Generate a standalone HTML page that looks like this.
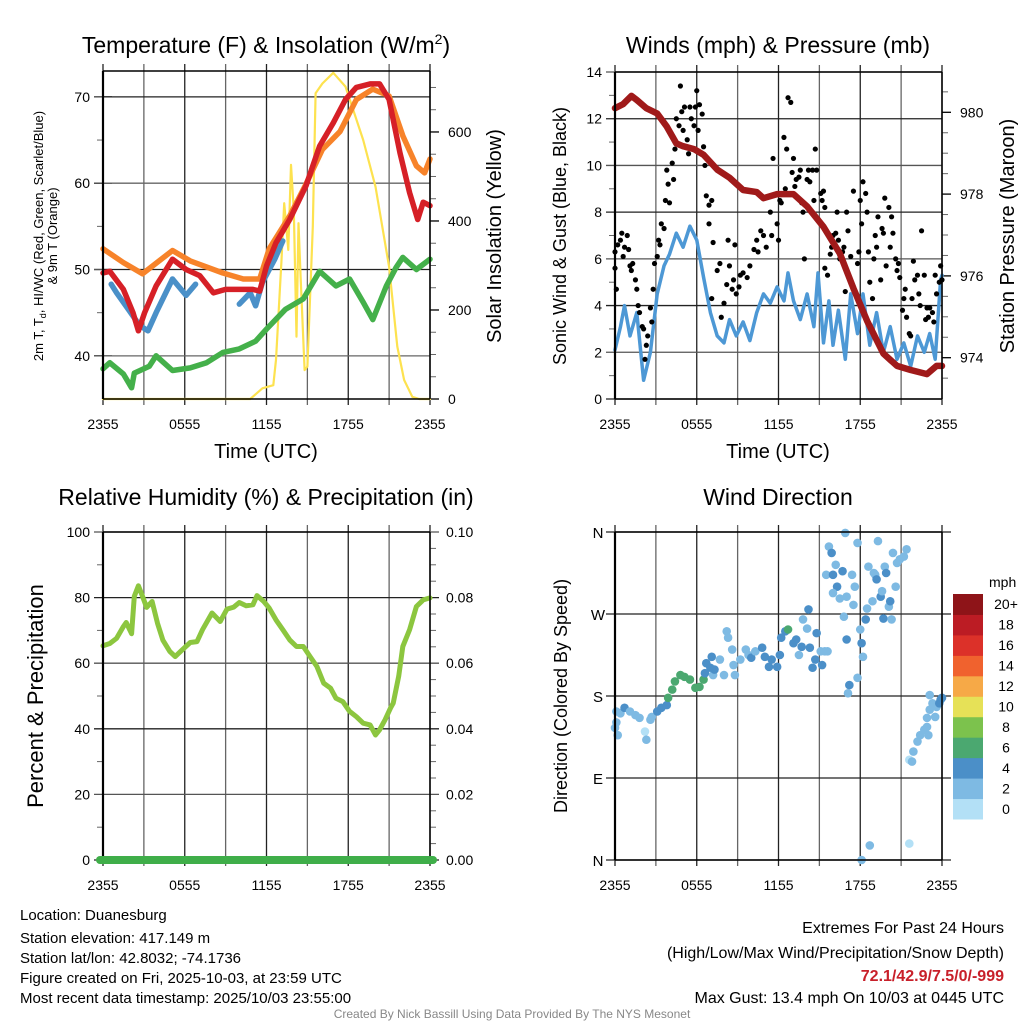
<!DOCTYPE html>
<html><head><meta charset="utf-8">
<style>
html,body{margin:0;padding:0;background:#fff;}
svg{display:block;font-family:"Liberation Sans",Arial,sans-serif;}
</style></head>
<body>
<svg id="fig" width="1024" height="1024" viewBox="0 0 1024 1024" xmlns="http://www.w3.org/2000/svg">
<rect width="1024" height="1024" fill="#fff"/>
<g id="p1"></g>
<g id="p2"></g>
<g id="p3"></g>
<g id="p4"></g>

<text x="266" y="53" font-size="23" text-anchor="middle">Temperature (F) &amp; Insolation (W/m<tspan font-size="14" dy="-9">2</tspan><tspan dy="9">)</tspan></text>
<text x="778" y="53" font-size="23" text-anchor="middle">Winds (mph) &amp; Pressure (mb)</text>
<text x="266" y="505" font-size="23" text-anchor="middle">Relative Humidity (%) &amp; Precipitation (in)</text>
<text x="778" y="505" font-size="23" text-anchor="middle">Wind Direction</text>

<text transform="translate(43,236) rotate(-90)" font-size="13" text-anchor="middle">2m T, T<tspan font-size="9" dy="3">d</tspan><tspan dy="-3">, HI/WC (Red, Green, Scarlet/Blue)</tspan></text>
<text transform="translate(57,236) rotate(-90)" font-size="13" text-anchor="middle">&amp; 9m T (Orange)</text>
<text transform="translate(501,236) rotate(-90)" font-size="20" text-anchor="middle">Solar Insolation (Yellow)</text>
<text transform="translate(566,236) rotate(-90)" font-size="18" text-anchor="middle">Sonic Wind &amp; Gust (Blue, Black)</text>
<text transform="translate(1014,236) rotate(-90)" font-size="20" text-anchor="middle">Station Pressure (Maroon)</text>
<text transform="translate(43,696) rotate(-90)" font-size="22" text-anchor="middle">Percent &amp; Precipitation</text>
<text transform="translate(567,696) rotate(-90)" font-size="18" text-anchor="middle">Direction (Colored By Speed)</text>
<text x="266" y="458" font-size="20" text-anchor="middle">Time (UTC)</text>
<text x="778" y="458" font-size="20" text-anchor="middle">Time (UTC)</text>

<g font-size="15">
<text x="20" y="920">Location: Duanesburg</text>
<text x="20" y="943">Station elevation: 417.149 m</text>
<text x="20" y="963">Station lat/lon: 42.8032; -74.1736</text>
<text x="20" y="983">Figure created on Fri, 2025-10-03, at 23:59 UTC</text>
<text x="20" y="1003">Most recent data timestamp: 2025/10/03 23:55:00</text>
</g>
<g font-size="16" text-anchor="end">
<text x="1004" y="933">Extremes For Past 24 Hours</text>
<text x="1004" y="958">(High/Low/Max Wind/Precipitation/Snow Depth)</text>
<text x="1004" y="981" fill="#c8202a" font-weight="bold">72.1/42.9/7.5/0/-999</text>
<text x="1004" y="1003">Max Gust: 13.4 mph On 10/03 at 0445 UTC</text>
</g>
<text x="512" y="1018" font-size="12" fill="#888" text-anchor="middle">Created By Nick Bassill Using Data Provided By The NYS Mesonet</text>
<g id="cbar"></g>
</svg>
<script>
// ---------- data (hours since 2355 UTC) ----------
const xTickLabels = ["2355","0555","1155","1755","2355"];
const tempTicks = [40,50,60,70];
const solarTicks = [0,200,400,600];
const windTicks = [0,2,4,6,8,10,12,14];
const presTicks = [974,976,978,980];
const rhTicks = [0,20,40,60,80,100];
const precipTickLabels = ["0.00","0.02","0.04","0.06","0.08","0.10"];
const dirTickLabels = ["N","E","S","W","N"];
const speedLabels = ["0","2","4","6","8","10","12","14","16","18","20+"];
const speedColors = ["#b3e0f6","#7ebae3","#4b8fc8","#4ba870","#7cc24d","#e6e157","#f6a947","#f0622e","#dc3129","#bc1c24","#8e1418"];

const tRedH = [0,0.5,1.5,2.2,2.6,3.05,3.9,5.1,6.1,7.1,8.1,9.0,10.0,11.0,11.5,12,12.7,13.7,14.9,15.9,16.9,17.8,18.6,19.6,20.3,21,21.8,22.5,23.1,23.5,24];
const tRedV = [49.6,49.8,47.7,45,42.9,45,48.1,51.2,50,49.3,47.3,47.7,47.7,47.7,47.5,50.4,53.1,55.8,59.7,64.3,67,69.7,71.1,71.5,71.5,69.7,63.5,58.9,55.8,57.8,57.4];
const tOrH = [0,1.5,2.9,5.1,6.4,8.8,10.3,11.5,12.2,13.7,14.9,16.1,17.4,18.6,19.8,21,22,23,23.6,24];
const tOrV = [52.4,50.8,49.5,52.2,51,49.6,48.9,48.9,52.4,56.2,59.9,63.9,66,69.7,70.9,70.1,65.5,62,61.2,62.8];
const hiH = [0.6,1,2.7,3.3,3.9,5.1,6.1,6.8,null,10,10.8,11.2,11.7,12.6,13.2];
const hiV = [48.3,47.3,43.5,42.9,45,48.9,47,48.3,null,46,47.3,45.8,48.5,51.2,53.3];
const tdH = [0,0.5,1.5,2.1,2.3,3.4,3.9,5.1,6.4,7.6,8.8,10,11.2,12,13.4,14.7,15.9,17.1,18.1,19.1,19.8,20.8,21.5,22,23,24];
const tdV = [38.5,39.2,37.9,36.3,38,38.8,40,38.3,38.6,39.2,40.4,40.8,41.7,43.1,45.4,46.6,49.8,48.1,48.9,46.2,44.2,48.1,50.2,51.4,50,51.2];
const solH = [0,10.8,11.7,12.5,12.7,13.1,13.3,13.6,13.8,14.0,14.2,14.35,14.5,14.8,15.0,15.4,15.6,16.1,16.9,17.8,19.1,20,21,21.6,22.1,22.7,23.2,24];
const solV = [0,0,24,31,88,312,440,335,526,425,140,395,275,65,73,387,687,709,733,702,582,477,297,118,43,5,0,0];

const presH = [0,0.6,1.2,1.6,2.3,3.1,3.8,4.5,5,5.8,6.5,7.5,8.4,9.4,10.4,10.9,11.9,13.1,14.1,15.3,16.5,17.5,18.5,19.7,20.7,21.7,22.9,23.6,24];
const presV = [980.1,980.2,980.4,980.3,980.1,979.97,979.65,979.24,979.17,979.1,978.96,978.6,978.4,978.1,978.05,977.9,978.0,978.0,977.7,977.2,976.55,975.7,974.9,974.1,973.8,973.7,973.6,973.8,973.8];
const wsH = [0,0.4,0.7,1.1,1.6,2.1,2.6,3.1,3.6,4.0,4.5,5.0,5.5,6.0,6.5,7.0,7.5,8.0,8.4,8.9,9.4,9.9,10.4,10.9,11.4,11.9,12.4,12.7,13.1,13.6,14.1,14.6,14.9,15.3,15.7,16.0,16.4,16.9,17.3,17.8,18.2,18.7,19.2,19.7,20.2,20.7,21.2,21.7,22.2,22.7,23.1,23.5,23.9,24];
const wsV = [2.1,3.1,4.0,2.7,3.7,0.8,2.0,4.5,5.7,6.2,7.1,6.5,7.4,6.8,5.2,3.7,2.7,2.4,3.4,2.7,3.3,2.5,3.7,4.5,4.1,4.8,4.2,5.4,4.2,3.4,4.5,3.1,5.4,2.4,4.2,2.3,3.8,1.7,4.5,2.8,4.5,2.3,3.7,2.0,3.1,1.7,2.4,1.4,2.7,2.0,2.8,1.7,5.1,5.3];
const gustH = [0,0,0.1,0.2,0.4,0.5,0.6,0.7,0.9,1.0,1.1,1.2,1.3,1.5,1.6,1.7,1.8,2.0,2.1,2.2,2.3,2.4,2.6,2.7,2.8,2.9,3.1,3.2,3.3,3.4,3.6,3.7,3.8,3.9,4.0,4.2,4.3,4.4,4.5,4.7,4.8,4.9,5.0,5.1,5.3,5.4,5.5,5.6,5.8,5.9,6.0,6.1,6.2,6.4,6.5,6.6,6.7,6.9,6.9,7.1,7.2,7.1,7.5,7.7,7.8,8.0,8.2,8.3,8.4,8.6,8.7,8.8,8.9,9.1,9.2,9.4,9.7,9.9,10.2,10.4,10.5,10.7,10.9,11.1,11.4,11.5,11.6,11.9,12.0,12.1,12.2,12.4,12.5,12.6,12.7,12.9,13.0,13.1,13.2,13.3,13.5,13.6,13.7,13.8,13.9,14.1,14.2,14.3,14.5,14.6,14.7,14.8,14.9,15.1,15.2,15.3,15.4,15.4,15.6,15.8,15.9,16.0,16.2,16.3,16.4,16.5,16.7,16.8,16.9,17.0,17.1,17.3,17.5,17.8,17.9,18.0,18.1,18.2,18.4,18.5,18.6,18.7,18.9,19.0,19.1,19.2,19.3,19.5,19.6,19.7,19.8,19.9,20.1,20.2,20.3,20.4,20.6,20.7,20.8,20.9,21.1,21.2,21.3,21.4,21.6,21.7,21.8,21.9,22.0,22.2,22.3,22.4,22.5,22.7,22.8,22.9,23.0,23.1,23.3,23.4,23.5,23.6,23.8,23.9,24.0];
const gustV = [6.3,5.6,4.7,6.6,6.8,7.1,6.1,6.5,7.0,6.4,5.7,5.5,5.8,5.1,4.7,4.0,3.7,3.1,3.0,1.7,2.3,2.7,3.9,3.3,4.7,5.8,6.1,6.8,6.6,7.5,7.3,8.5,9.8,9.2,8.4,10.1,9.4,10.7,12.0,11.7,13.4,12.3,11.5,12.5,11.1,10.5,12.5,12.0,11.7,12.5,13.2,11.5,12.6,12.2,10.8,10.0,8.7,8.3,7.5,8.5,6.7,4.3,5.5,5.8,3.5,4.1,4.9,6.8,5.7,4.7,5.1,6.6,4.5,4.8,5.3,5.4,5.2,5.7,6.4,6.8,6.3,7.2,7.0,6.5,8.0,7.0,10.3,7.5,6.8,8.5,8.4,11.2,9.0,10.7,12.9,12.7,9.7,10.3,9.1,9.4,9.5,9.8,8.4,8.0,6.0,9.4,9.8,9.3,9.8,8.5,10.7,9.8,7.7,8.8,8.5,8.9,8.2,5.6,5.3,6.2,6.5,7.0,7.1,8.0,6.8,6.0,6.3,6.5,4.6,8.0,7.2,6.1,8.9,5.8,6.3,8.5,7.5,9.3,8.8,8.0,6.3,5.0,4.3,6.0,7.0,6.5,7.8,5.1,7.3,7.1,8.6,5.7,8.2,6.5,7.8,7.1,6.0,5.5,5.8,5.2,3.8,4.3,4.7,3.5,2.8,2.7,4.3,5.9,5.1,5.3,4.5,4.0,7.2,5.3,3.4,3.9,3.5,3.9,3.7,3.3,5.3,4.5,5.0,5.7,5.1];

const rhH = [0,0.5,1.0,1.5,1.7,2.1,2.3,2.6,2.9,3.2,3.6,4.0,4.4,4.9,5.3,5.8,6.4,6.9,7.3,8.0,8.6,9.1,9.6,10.0,10.5,11.0,11.3,11.8,12.2,12.7,13.2,13.7,14.2,14.7,15.2,15.7,16.2,16.7,17.1,17.6,18.1,18.6,19.1,19.6,20.0,20.3,20.7,21.1,21.3,21.7,22.0,22.5,23.0,23.5,24];
const rhV = [65.3,66,67.6,71.2,72.4,69,80.4,83.6,80.4,77,78.8,72.2,67,63.6,62,64,66.3,66.6,70.2,75.3,72.7,76.5,77.1,78.5,77.5,77.8,80.6,78.8,76.8,73.2,70.2,67.1,65.1,65.1,62,59,53.9,52.4,49.3,48.3,45.3,43.7,41.7,41.2,38.1,39.7,42.7,46.3,47.8,56,65.1,70.2,77.3,79.3,79.9];
const precipH = [0,24];
const precipV = [0,0];

const dirH = [0,0.1,0.2,0.1,0.4,0.7,1.1,1.5,1.8,2.2,2.3,2.6,2.7,3.1,3.4,3.8,3.9,4.2,4.4,4.8,5.1,5.5,5.9,6.2,6.5,6.6,6.7,7.0,7.1,7.2,7.3,7.7,8.0,8.2,8.3,8.6,8.7,8.8,9.2,9.6,9.8,10.0,10.3,10.8,11.0,11.3,11.5,11.9,12.1,12.2,12.5,12.7,13.1,13.3,13.5,13.7,13.8,14.1,14.2,14.3,14.5,14.7,14.8,15.1,15.2,15.4,15.6,15.5,15.7,15.9,16.0,16.2,16.3,16.0,16.7,16.5,16.8,16.9,17.0,17.0,17.1,17.2,17.4,17.5,17.6,17.8,17.8,18.0,18.1,18.1,18.2,18.4,18.5,18.6,18.7,18.9,19.0,19.1,19.2,19.3,19.5,19.6,19.7,19.8,19.9,20.1,20.2,20.3,20.4,20.6,20.7,20.9,21.2,21.4,21.6,21.6,21.8,21.9,22.2,22.4,22.7,22.9,23.0,22.9,23.1,23.3,23.1,23.5,23.6,23.8,23.9,24];
const dirV = [145,151,137,163,161,167,163,159,156,141,132,154,157,163,167,170,178,187,196,203,201,198,189,190,198,205,216,211,223,203,209,220,203,251,244,231,214,203,220,231,225,222,229,233,223,212,220,212,225,244,251,253,238,242,225,234,264,254,275,233,211,220,249,229,214,229,229,313,344,337,313,324,300,293,317,287,267,359,289,242,183,192,313,280,300,348,200,253,238,0,223,264,276,322,16,284,315,313,308,350,289,295,265,322,315,278,284,264,337,300,326,330,333,341,18,110,108,119,130,137,143,146,137,156,165,172,181,157,168,172,176,178];
const dirSpd = [3,3,3,3,3,5,3,3,3,1,3,3,3,5,5,5,7,7,7,7,7,7,7,7,7,5,5,5,5,3,5,3,3,3,3,3,3,3,3,3,3,5,3,5,5,5,5,5,5,5,5,7,5,5,3,5,3,3,5,5,5,5,5,3,5,3,3,3,3,5,5,3,5,3,5,3,3,3,3,5,3,5,3,3,3,3,3,3,5,3,3,5,3,3,3,3,3,3,5,3,5,3,5,3,5,3,5,3,3,3,3,3,3,3,1,1,3,3,3,3,3,3,3,3,3,3,3,3,3,5,5,5];

// ---------- helpers ----------
const NS = "http://www.w3.org/2000/svg";
function mk(parent, tag, attrs){ const e=document.createElementNS(NS,tag); for(const k in attrs) e.setAttribute(k,attrs[k]); parent.appendChild(e); return e; }
function lin(d0,d1,r0,r1){ return v => r0 + (v-d0)/(d1-d0)*(r1-r0); }
function pathFrom(hs, vs, fx, fy){
  let d="", pen=false;
  for(let i=0;i<hs.length;i++){
    if(hs[i]===null||vs[i]===null){ pen=false; continue; }
    d += (pen?"L":"M") + fx(hs[i]).toFixed(1)+","+fy(vs[i]).toFixed(1);
    pen=true;
  }
  return d;
}
function frame(g, L, R, T, B, fx){
  // vertical grid every 3 h
  for(let h=0; h<=24; h+=3){
    const x=fx(h);
    const ln=mk(g,"line",{x1:x,x2:x,y1:T-7,y2:B+6,stroke:(h%6===0)?"#222":"#666","stroke-width":1.3});
    
    
  }
  for(let i=0;i<xTickLabels.length;i++){
    const t=mk(g,"text",{x:fx(i*6),y:(B+30),"font-size":14,"text-anchor":"middle"});
    t.textContent=xTickLabels[i];
    
    
  }
}
function hgrid(g,L,R,y,col){
  const ln=mk(g,"line",{x1:L-9,x2:R+9,y1:y,y2:y,stroke:col,"stroke-width":1.3});
  
  
}
function border(g,L,R,T,B){
  mk(g,"line",{x1:L,x2:L,y1:T,y2:B,stroke:"#000","stroke-width":2.2});
  mk(g,"line",{x1:R,x2:R,y1:T,y2:B,stroke:"#000","stroke-width":1.5});
  mk(g,"line",{x1:L,x2:R,y1:T,y2:T,stroke:"#000","stroke-width":1.5});
  mk(g,"line",{x1:L,x2:R,y1:B,y2:B,stroke:"#000","stroke-width":1.5});
}
function ylab(g,x,y,txt,anchor){
  const t=mk(g,"text",{x:x,y:y+5,"font-size":14,"text-anchor":anchor}); t.textContent=txt;
  
  
}
function minor(g,x,y,dir){ mk(g,"line",{x1:x,x2:x+dir*6,y1:y,y2:y,stroke:"#666","stroke-width":1}); }
function line(g,d,col,w,name){
  const p=mk(g,"path",{d:d,fill:"none",stroke:col,"stroke-width":w,"stroke-linejoin":"round","stroke-linecap":"round"});
  
  
  return p;
}

// ---------- panel 1: temperature ----------
(function(){
  const g=document.getElementById("p1");
  const L=103,R=430,T=71,B=399;
  const fx=lin(0,24,L,R), fy=lin(35,73,B,T), fs=lin(0,737,B,T);
  frame(g,L,R,T,B,fx);
  tempTicks.forEach(v=>{ hgrid(g,L,L+0,fy(v),"#000"); mk(g,"line",{x1:L,x2:R,y1:fy(v),y2:fy(v),stroke:(v%20===10)?"#222":"#666","stroke-width":1.3}); mk(g,"line",{x1:L-9,x2:L,y1:fy(v),y2:fy(v),stroke:"#555","stroke-width":1.3}); ylab(g,L-13,fy(v),String(v),"end"); });
  [45,55,65].forEach(v=>minor(g,L,fy(v),-1));
  solarTicks.forEach(v=>{ mk(g,"line",{x1:R,x2:R+9,y1:fs(v),y2:fs(v),stroke:"#000","stroke-width":1.3}); ylab(g,R+18,fs(v),String(v),"start"); });
  [50,100,150,250,300,350,450,500,550,650,700].forEach(v=>minor(g,R,fs(v),1));
  line(g,pathFrom(solH,solV,fx,fs),"#fde24f",2.2,"solar-insolation-line");
  line(g,pathFrom(tdH,tdV,fx,fy),"#44b04a",5.5,"dewpoint-line");
  line(g,pathFrom(tOrH,tOrV,fx,fy),"#f7832a",5.5,"temp-9m-line");
  line(g,pathFrom(hiH,hiV,fx,fy),"#4a90c8",5.5,"heat-index-windchill-line");
  line(g,pathFrom(tRedH,tRedV,fx,fy),"#d62027",5.5,"temp-2m-line");
  border(g,L,R,T,B);
})();

// ---------- panel 2: winds ----------
(function(){
  const g=document.getElementById("p2");
  const L=615,R=942,T=72,B=399;
  const fx=lin(0,24,L,R), fy=lin(0,14,B,T), fp=lin(974,980,357.7,112.3);
  frame(g,L,R,T,B,fx);
  windTicks.forEach(v=>{ mk(g,"line",{x1:L-9,x2:R,y1:fy(v),y2:fy(v),stroke:(v%4===0)?"#222":"#555","stroke-width":1.3}); ylab(g,L-13,fy(v),String(v),"end"); });
  for(let v=1; v<14; v+=2) minor(g,L,fy(v),-1);
  presTicks.forEach(v=>{ mk(g,"line",{x1:R,x2:R+9,y1:fp(v),y2:fp(v),stroke:"#000","stroke-width":1.3}); ylab(g,R+18,fp(v),String(v),"start"); });
  [973.5,974.5,975,975.5,976.5,977,977.5,978.5,979,979.5,980.5].forEach(v=>{ if(fp(v)>T&&fp(v)<B) minor(g,R,fp(v),1); });
  line(g,pathFrom(wsH,wsV,fx,fy),"#4d98d5",3.5,"sonic-wind-line");
  const gg=mk(g,"g",{});  
  for(let i=0;i<gustH.length;i++){
    const c=mk(gg,"circle",{cx:fx(gustH[i]),cy:fy(gustV[i]),r:2.6,fill:"#000"});
    
    
  }
  line(g,pathFrom(presH,presV,fx,fp),"#a01a1a",6.5,"pressure-line");
  border(g,L,R,T,B);
})();

// ---------- panel 3: humidity ----------
(function(){
  const g=document.getElementById("p3");
  const L=103,R=430,T=532,B=860;
  const fx=lin(0,24,L,R), fy=lin(0,100,B,T);
  frame(g,L,R,T,B,fx);
  rhTicks.forEach((v,i)=>{ mk(g,"line",{x1:L-9,x2:R+9,y1:fy(v),y2:fy(v),stroke:(v%40===0)?"#222":"#555","stroke-width":1.3}); ylab(g,L-13,fy(v),String(v),"end"); ylab(g,R+16,fy(v),precipTickLabels[i],"start"); });
  for(let v=10; v<100; v+=10){ if(v%20) { minor(g,L,fy(v),-1); } }
  for(let v=5; v<100; v+=5){ if(v%20) minor(g,R,fy(v),1); }
  line(g,pathFrom(rhH,rhV,fx,fy),"#8cc63f",5,"humidity-line");
  border(g,L,R,T,B);
  const pp=line(g,pathFrom(precipH,precipV,fx,fy),"#3fae49",8,"precipitation-line");
  pp.setAttribute("d","M"+(fx(precipH[0])-3)+","+fy(precipV[0])+"L"+(fx(precipH[1])+3)+","+fy(precipV[1]));
})();

// ---------- panel 4: wind direction ----------
(function(){
  const g=document.getElementById("p4");
  const L=615,R=942,T=532,B=860;
  const fx=lin(0,24,L,R), fy=lin(0,360,B,T);
  frame(g,L,R,T,B,fx);
  dirTickLabels.forEach((s,i)=>{ const v=i*90; mk(g,"line",{x1:L-9,x2:R+9,y1:fy(v),y2:fy(v),stroke:"#222","stroke-width":1.3});
    const t=mk(g,"text",{x:L-17,y:fy(v)+6,"font-size":15,"text-anchor":"middle"}); t.textContent=s;
    
     });
  const gg=mk(g,"g",{});  
  for(let i=0;i<dirH.length;i++){
    const ci=Math.min(10,Math.floor(dirSpd[i]/2));
    const c=mk(gg,"circle",{cx:fx(dirH[i]),cy:fy(dirV[i]),r:4.3,fill:speedColors[ci]});
    
    
  }
  border(g,L,R,T,B);
})();

// ---------- colorbar ----------
(function(){
  const g=document.getElementById("cbar");
  const x0=953,w=30,top=594,bot=819,n=speedColors.length,h=(bot-top)/n;
  const t0=mk(g,"text",{x:989,y:587,"font-size":14}); t0.textContent="mph";
  
  
  for(let i=0;i<n;i++){
    const y=bot-(i+1)*h;
    const r=mk(g,"rect",{x:x0,y:y,width:w,height:h+0.5,fill:speedColors[i]});
    
    
    const t=mk(g,"text",{x:1006,y:y+h/2+5,"font-size":14,"text-anchor":"middle"}); t.textContent=speedLabels[i];
    
    
  }
})();
</script>
</body></html>
